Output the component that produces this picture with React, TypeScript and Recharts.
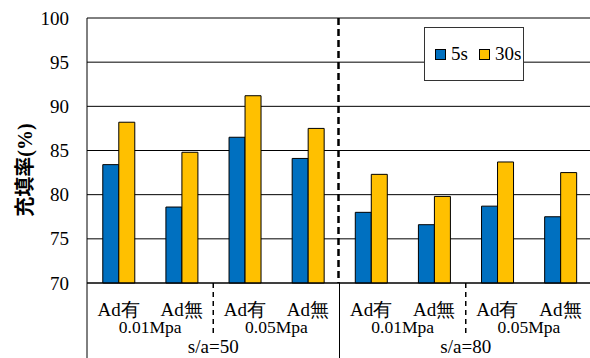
import React from 'react';
import { BarChart, Bar, XAxis, YAxis, CartesianGrid } from 'recharts';

const categories = ['Ad有', 'Ad無', 'Ad有', 'Ad無', 'Ad有', 'Ad無', 'Ad有', 'Ad無'];
const series5s = [83.4, 78.6, 86.5, 84.1, 78.0, 76.6, 78.7, 77.5];
const series30s = [88.2, 84.8, 91.2, 87.5, 82.3, 79.8, 83.7, 82.5];
const pressures = ['0.01Mpa', '0.05Mpa', '0.01Mpa', '0.05Mpa'];
const groups = ['s/a=50', 's/a=80'];
const yTicks = [70, 75, 80, 85, 90, 95, 100];
const seriesNames = ['5s', '30s'];
const seriesColors = ['#0070C0', '#FFC000'];

const data = categories.map((c, i) => ({ label: c, s5: series5s[i], s30: series30s[i] }));

const W = 592;
const H = 358;
const TOP = 18;
const LEFT = 87;
const XH = 75;
const AXIS_Y = H - XH;
const PLOT_W = W - LEFT;
const FONT = "Liberation Serif, Times New Roman, serif";

function XTick(props: any) {
  const { x, index, payload } = props;
  const bw = PLOT_W / categories.length;
  const els: any[] = [];
  els.push(
    <text key="t" x={x} y={309} textAnchor="middle" dominantBaseline="central" fontSize={19} fontFamily={FONT} fill="#000">
      {payload.value}
    </text>
  );
  if (index === 0) {
    els.push(<line key="l0" x1={x - bw / 2} x2={x - bw / 2} y1={AXIS_Y} y2={H} stroke="#000" strokeWidth={1} />);
  }
  if (index % 2 === 1) {
    els.push(
      <text key="p" x={x - bw / 2} y={327} textAnchor="middle" dominantBaseline="central" fontSize={17.5} fontFamily={FONT} fill="#000">
        {pressures[(index - 1) / 2]}
      </text>
    );
    const bx = x + bw / 2;
    if (index === 3) {
      els.push(<line key="s" x1={bx} x2={bx} y1={AXIS_Y} y2={H} stroke="#000" strokeWidth={1} />);
      els.push(<line key="d" x1={bx - 1} x2={bx - 1} y1={TOP} y2={AXIS_Y} stroke="#000" strokeWidth={2.5} strokeDasharray="7 4" />);
    } else if (index !== categories.length - 1) {
      els.push(<line key="s" x1={bx} x2={bx} y1={AXIS_Y} y2={335} stroke="#000" strokeWidth={1.5} strokeDasharray="5 4" />);
    }
  }
  if (index % 4 === 1) {
    els.push(
      <text key="g" x={x + bw / 2} y={346} textAnchor="middle" dominantBaseline="central" fontSize={19} fontFamily={FONT} fill="#000">
        {groups[(index - 1) / 4]}
      </text>
    );
  }
  return <g>{els}</g>;
}

function YTick(props: any) {
  const { x, y, payload } = props;
  return (
    <text x={x} y={y} textAnchor="end" dominantBaseline="central" fontSize={19} fontFamily={FONT} fill="#000">
      {payload.value}
    </text>
  );
}

function YLabel() {
  return (
    <text
      x={25}
      y={170}
      transform="rotate(-90 25 170)"
      textAnchor="middle"
      dominantBaseline="central"
      fontSize={20}
      fontWeight="bold"
      fontFamily="Liberation Serif, Noto Sans CJK JP, serif"
      fill="#000"
    >
      充填率(%)
    </text>
  );
}

export default function App() {
  return (
    <div style={{ position: 'absolute', left: 0, top: 0, width: 590, height: H, overflow: 'hidden', background: '#fff' }}>
      <BarChart
        width={W}
        height={H}
        data={data}
        margin={{ top: TOP, right: 0, left: 0, bottom: 0 }}
        barCategoryGap="25%"
        barGap={0}
      >
        <CartesianGrid vertical={false} stroke="#000" strokeWidth={1} />
        <YAxis
          width={LEFT}
          domain={[70, 100]}
          ticks={yTicks}
          interval={0}
          axisLine={{ stroke: '#000', strokeWidth: 1 }}
          tickLine={false}
          tickSize={0}
          tickMargin={18}
          tick={(p: any) => <YTick {...p} />}
          label={{ content: () => <YLabel /> }}
        />
        <XAxis
          dataKey="label"
          height={XH}
          interval={0}
          axisLine={{ stroke: '#000', strokeWidth: 1 }}
          tickLine={false}
          tick={(p: any) => <XTick {...p} />}
        />
        <Bar dataKey="s5" fill={seriesColors[0]} stroke="#000" strokeWidth={1} isAnimationActive={false} />
        <Bar dataKey="s30" fill={seriesColors[1]} stroke="#000" strokeWidth={1} isAnimationActive={false} />
      </BarChart>
      <div
        style={{
          position: 'absolute',
          left: 424,
          top: 27,
          width: 100,
          height: 54,
          boxSizing: 'border-box',
          border: '1px solid #333',
          background: '#fff',
          display: 'flex',
          alignItems: 'center',
          justifyContent: 'flex-start',
          paddingLeft: 10,
          fontFamily: FONT,
          fontSize: 19,
          color: '#000',
        }}
      >
        {seriesNames.map((n, i) => (
          <span key={n} style={{ display: 'flex', alignItems: 'center', marginRight: i === 0 ? 11 : 0 }}>
            <span
              style={{
                display: 'inline-block',
                width: 9,
                height: 9,
                background: seriesColors[i],
                border: '1px solid #000',
                marginRight: 5,
              }}
            />
            <span>{n}</span>
          </span>
        ))}
      </div>
    </div>
  );
}
